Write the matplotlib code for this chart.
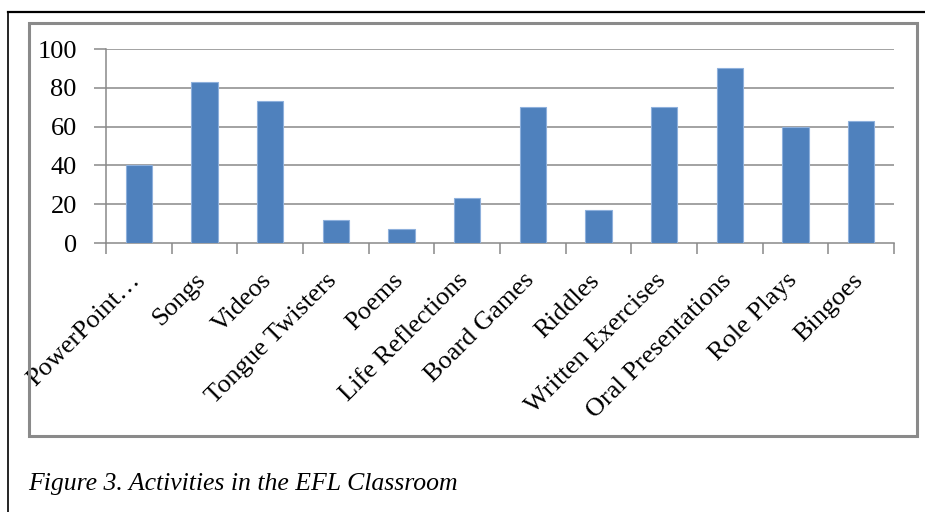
import matplotlib
matplotlib.use("Agg")
import matplotlib.pyplot as plt
import matplotlib.transforms as mtransforms
from matplotlib.patches import Rectangle
from matplotlib.lines import Line2D

# Activities in the EFL classroom
activities = ["PowerPoint\u2026", "Songs", "Videos", "Tongue Twisters", "Poems",
              "Life Reflections", "Board Games", "Riddles", "Written Exercises",
              "Oral Presentations", "Role Plays", "Bingoes"]
percent = [40, 83, 73, 12, 7, 23, 70, 17, 70, 90, 60, 63]
yticks = [0, 20, 40, 60, 80, 100]

W, H = 925, 512
plt.rcParams["font.family"] = ["Liberation Serif", "DejaVu Serif"]

fig = plt.figure(figsize=(W / 100, H / 100), dpi=100)
ax = fig.add_axes([106 / W, 1 - 243 / H, (894 - 106) / W, (243 - 49) / H])

grey = "#898989"
n = len(activities)
x = list(range(n))
ax.bar(x, percent, width=0.4, color="#4f81bd", edgecolor="#8eb0dc", linewidth=0.8, zorder=3)

ax.set_yticks(yticks)
ax.set_yticklabels([str(v) for v in yticks], fontsize=19)

# tick marks sit between the categories; names are placed by hand below
ax.set_xticks([i - 0.5 for i in range(n + 1)])
ax.set_xticklabels([])
ax.set_xlim(-0.5, n - 0.5)
ax.set_ylim(0, 100)

lab_tr = mtransforms.blended_transform_factory(ax.transData, ax.transAxes) + \
    mtransforms.ScaledTranslation(-2 / 100, -34 / 100, fig.dpi_scale_trans)
for i, name in zip(x, activities):
    ax.text(i, 0, name, transform=lab_tr, rotation=45, rotation_mode="anchor",
            ha="right", va="center", fontsize=19, clip_on=False)

# horizontal gridlines drawn across the plotting area only
for v in yticks[1:]:
    ax.axhline(v, color=grey, linewidth=1.1, zorder=0)

ax.tick_params(axis="x", length=8, color=grey, width=1.1)
ax.tick_params(axis="y", length=9, color=grey, width=1.1, pad=12)

for side in ("top", "right"):
    ax.spines[side].set_visible(False)
for side in ("left", "bottom"):
    ax.spines[side].set_color(grey)
    ax.spines[side].set_linewidth(1.1)

# grey frame around the chart
fig.patches.append(Rectangle((29 / W, 1 - 436 / H), (917 - 29) / W, (436 - 23) / H,
                             transform=fig.transFigure, fill=False,
                             edgecolor="#8a8a8a", linewidth=2.2))
# black page lines at top and left
fig.lines.append(Line2D([8 / W, 1], [1 - 12 / H, 1 - 12 / H], transform=fig.transFigure,
                        color="black", linewidth=1.6))
fig.lines.append(Line2D([8 / W, 8 / W], [0, 1 - 12 / H], transform=fig.transFigure,
                        color="black", linewidth=1.2))

fig.text(28 / W, 1 - 484 / H, "Figure 3. Activities in the EFL Classroom",
         fontsize=18.5, style="italic", va="center", ha="left")

fig.savefig("out.png", dpi=100)
